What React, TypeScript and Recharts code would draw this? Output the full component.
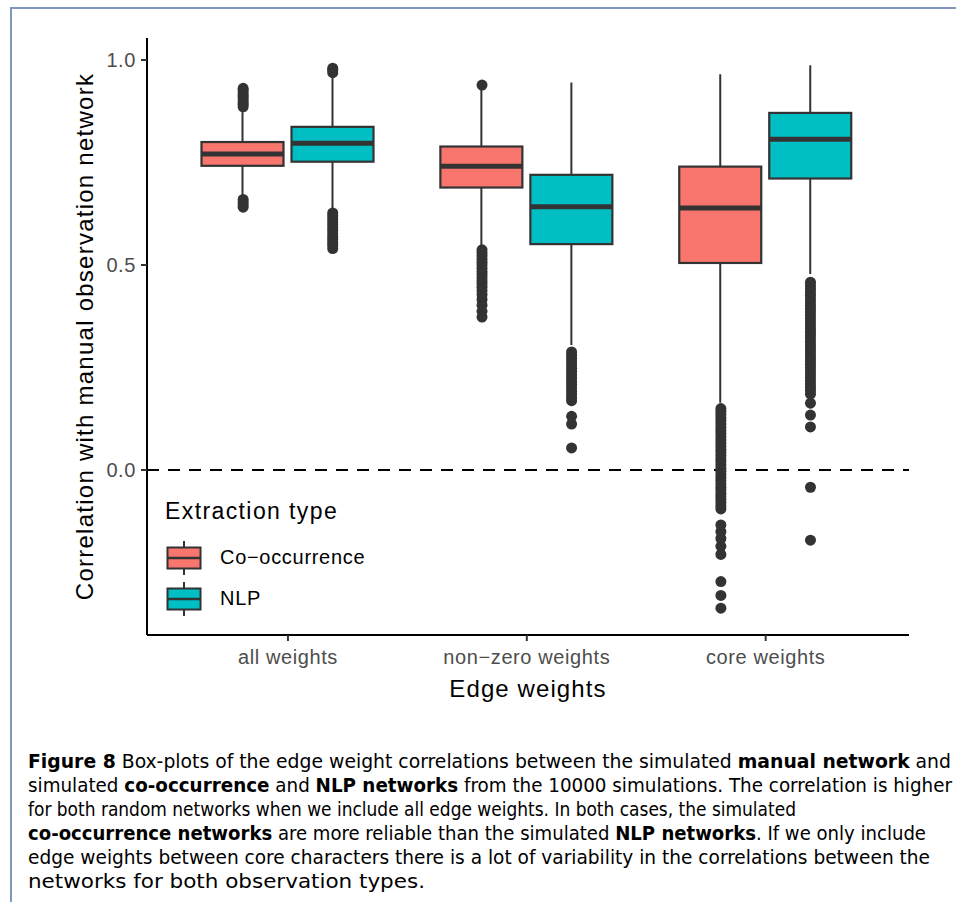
import React from 'react';
import { ComposedChart, Bar, Scatter, XAxis, YAxis, ReferenceLine, Legend } from 'recharts';

// ---------- data ----------
const categories = ['all weights', 'non−zero weights', 'core weights'];
const categoryPositions = [1, 2, 3];
const seriesNames = ['Co−occurrence', 'NLP'];
const seriesColors = ['#F8766D', '#00BFC4'];
const yTicks = [0, 0.5, 1.0];

const coLower = [0.67, 0.549, 0.164];
const coQ1 = [0.742, 0.689, 0.505];
const coMedian = [0.771, 0.741, 0.639];
const coQ3 = [0.8, 0.789, 0.74];
const coUpper = [0.873, 0.93, 0.965];

const nlpLower = [0.638, 0.305, 0.478];
const nlpQ1 = [0.752, 0.551, 0.711];
const nlpMedian = [0.797, 0.642, 0.807];
const nlpQ3 = [0.837, 0.72, 0.871];
const nlpUpper = [0.956, 0.945, 0.987];

const coOutliersAll = [0.931, 0.926, 0.92, 0.914, 0.909, 0.903, 0.897, 0.892, 0.886, 0.66, 0.654, 0.647, 0.641];
const coOutliersNonZero = [0.939, 0.537, 0.53, 0.522, 0.514, 0.507, 0.5, 0.492, 0.484, 0.477, 0.469, 0.461, 0.454, 0.446, 0.437, 0.428, 0.416, 0.402, 0.387, 0.373];
const coOutliersCore = [0.15, 0.143, 0.135, 0.127, 0.12, 0.112, 0.104, 0.096, 0.089, 0.081, 0.073, 0.066, 0.058, 0.05, 0.043, 0.035, 0.027, 0.02, 0.012, 0.004, -0.003, -0.011, -0.019, -0.026, -0.034, -0.042, -0.049, -0.057, -0.065, -0.072, -0.08, -0.088, -0.095, -0.134, -0.15, -0.167, -0.186, -0.206, -0.272, -0.306, -0.337];

const nlpOutliersAll = [0.98, 0.975, 0.969, 0.627, 0.62, 0.613, 0.605, 0.598, 0.591, 0.584, 0.576, 0.569, 0.562, 0.555, 0.548, 0.54];
const nlpOutliersNonZero = [0.288, 0.28, 0.272, 0.264, 0.256, 0.248, 0.24, 0.232, 0.224, 0.216, 0.208, 0.2, 0.192, 0.184, 0.176, 0.169, 0.131, 0.112, 0.054];
const nlpOutliersCore = [0.458, 0.45, 0.442, 0.434, 0.426, 0.418, 0.41, 0.402, 0.394, 0.386, 0.378, 0.37, 0.362, 0.354, 0.346, 0.338, 0.33, 0.322, 0.314, 0.306, 0.298, 0.29, 0.282, 0.274, 0.266, 0.258, 0.25, 0.242, 0.234, 0.226, 0.218, 0.21, 0.202, 0.194, 0.185, 0.163, 0.134, 0.105, -0.042, -0.171];

// ---------- derived tables ----------
const DODGE = 0.1875; // ggplot dodge of 0.75 / 4
const X_DOMAIN: [number, number] = [0.41, 3.6];
const Y_DOMAIN: [number, number] = [-0.4024, 1.0537];
const coOutliers = [coOutliersAll, coOutliersNonZero, coOutliersCore];
const nlpOutliers = [nlpOutliersAll, nlpOutliersNonZero, nlpOutliersCore];

const boxData = categoryPositions.map((x, i) => ({
  x,
  co: { lo: coLower[i], q1: coQ1[i], med: coMedian[i], q3: coQ3[i], hi: coUpper[i] },
  nlp: { lo: nlpLower[i], q1: nlpQ1[i], med: nlpMedian[i], q3: nlpQ3[i], hi: nlpUpper[i] },
}));

const coPoints = coOutliers.flatMap((arr, i) => arr.map((v) => ({ x: categoryPositions[i] - DODGE, y: v })));
const nlpPoints = nlpOutliers.flatMap((arr, i) => arr.map((v) => ({ x: categoryPositions[i] + DODGE, y: v })));

const rangeOf = (key: string) => (d: any) => (d && d[key] ? [d[key].lo, d[key].hi] : null);

const FONT = '"Liberation Sans", Arial, Helvetica, sans-serif';
const DARK = '#333333';

// ---------- shapes ----------
const makeBoxShape = (key: string) => (props: any) => {
  const { x, y, width, height, payload, fill } = props;
  const s = payload && payload[key];
  if (!s || x == null || y == null) return <g />;
  const top = Math.min(y, y + height);
  const bottom = Math.max(y, y + height);
  const px = (v: number) => top + ((bottom - top) * (s.hi - v)) / (s.hi - s.lo);
  const cx = x + width / 2;
  return (
    <g>
      <line x1={cx} x2={cx} y1={px(s.hi)} y2={px(s.lo)} stroke={DARK} strokeWidth={2} />
      <rect x={x} y={px(s.q3)} width={width} height={px(s.q1) - px(s.q3)} fill={fill} stroke={DARK} strokeWidth={2.2} />
      <line x1={x} x2={x + width} y1={px(s.med)} y2={px(s.med)} stroke={DARK} strokeWidth={5} />
    </g>
  );
};

const OutlierDot = (props: any) => (props.cx == null ? <g /> : <circle cx={props.cx} cy={props.cy} r={5.5} fill={DARK} />);

const XTitle = (props: any) => {
  const vb = props.viewBox || { x: 0, y: 0, width: 0, height: 0 };
  return (
    <text x={vb.x + vb.width / 2} y={vb.y + 62} textAnchor="middle" fontFamily={FONT} fontSize={24} fill="#000" letterSpacing={1.1}>
      Edge weights
    </text>
  );
};

const YTitle = (props: any) => {
  const vb = props.viewBox || { x: 0, y: 0, width: 0, height: 0 };
  const tx = vb.x + vb.width - 54;
  const ty = vb.y + vb.height / 2;
  return (
    <text x={tx} y={ty} transform={`rotate(-90 ${tx} ${ty})`} textAnchor="middle" fontFamily={FONT} fontSize={24} fill="#000" letterSpacing={1.25}>
      Correlation with manual observation network
    </text>
  );
};

const LegendContent = (props: any) => {
  const items = (props.payload || []).filter((p: any) => p.type !== 'none');
  return (
    <div style={{ fontFamily: FONT, color: '#000' }}>
      <div style={{ fontSize: 23, lineHeight: '28px', paddingLeft: 5, letterSpacing: 1.4, whiteSpace: 'nowrap' }}>Extraction type</div>
      <div style={{ marginTop: 12 }}>
        {items.map((it: any) => (
          <div key={it.value} style={{ display: 'flex', alignItems: 'center', height: 41 }}>
            <svg width={36} height={38} style={{ marginLeft: 6, display: 'block' }}>
              <line x1={18} x2={18} y1={2} y2={36} stroke={DARK} strokeWidth={2} />
              <rect x={1.5} y={8.5} width={33} height={21} fill={it.color} stroke={DARK} strokeWidth={2} />
              <line x1={1.5} x2={34.5} y1={19} y2={19} stroke={DARK} strokeWidth={2.6} />
            </svg>
            <span style={{ marginLeft: 18, fontSize: 20, letterSpacing: 0.7, whiteSpace: 'nowrap' }}>{it.value}</span>
          </div>
        ))}
      </div>
    </div>
  );
};

// ---------- caption ----------
const captionLines: { parts: [string, boolean][]; len: number }[] = [
  { parts: [['Figure 8', true], [' Box-plots of the edge weight correlations between the simulated ', false], ['manual network', true], [' and', false]], len: 923 },
  { parts: [['simulated ', false], ['co-occurrence', true], [' and ', false], ['NLP networks', true], [' from the 10000 simulations. The correlation is higher', false]], len: 924 },
  { parts: [['for both random networks when we include all edge weights. In both cases, the simulated', false]], len: 768 },
  { parts: [['co-occurrence networks', true], [' are more reliable than the simulated ', false], ['NLP networks', true], ['. If we only include', false]], len: 898 },
  { parts: [['edge weights between core characters there is a lot of variability in the correlations between the', false]], len: 902 },
  { parts: [['networks for both observation types.', false]], len: 397 },
];

const axisTick = { fill: '#4D4D4D', fontSize: 20, fontFamily: FONT, letterSpacing: 0.6 };

export default function App() {
  return (
    <div style={{ position: 'absolute', left: 0, top: 0, width: 956, height: 902, background: '#fff', overflow: 'hidden' }}>
      <div style={{ position: 'absolute', left: 10, top: 7, width: 960, height: 910, borderTop: '2px solid #7f97ba', borderLeft: '2px solid #7f97ba' }} />
      <div style={{ position: 'absolute', left: 0, top: 0 }}>
        <ComposedChart width={956} height={720} data={boxData} margin={{ top: 38, right: 47, bottom: 0, left: 0 }} barSize={82} barGap={8}>
          <XAxis
            type="number"
            dataKey="x"
            domain={X_DOMAIN}
            allowDataOverflow
            ticks={categoryPositions}
            tickFormatter={(v: number) => categories[Math.round(v) - 1] ?? ''}
            height={85}
            tickSize={6}
            tickMargin={9}
            axisLine={{ stroke: '#000', strokeWidth: 2 }}
            tickLine={{ stroke: DARK, strokeWidth: 2 }}
            tick={axisTick}
            label={<XTitle />}
          />
          <XAxis xAxisId="pts" type="number" dataKey="x" domain={X_DOMAIN} allowDataOverflow hide />
          <YAxis
            type="number"
            domain={Y_DOMAIN}
            allowDataOverflow
            ticks={yTicks}
            tickFormatter={(v: number) => v.toFixed(1)}
            width={147}
            tickSize={6}
            tickMargin={5}
            axisLine={{ stroke: '#000', strokeWidth: 2 }}
            tickLine={{ stroke: DARK, strokeWidth: 2 }}
            tick={axisTick}
            label={<YTitle />}
          />
          <Bar name={seriesNames[0]} dataKey={rangeOf('co')} fill={seriesColors[0]} shape={makeBoxShape('co')} isAnimationActive={false} />
          <Bar name={seriesNames[1]} dataKey={rangeOf('nlp')} fill={seriesColors[1]} shape={makeBoxShape('nlp')} isAnimationActive={false} />
          <Scatter xAxisId="pts" name="co-outliers" data={coPoints} dataKey="y" shape={<OutlierDot />} legendType="none" isAnimationActive={false} />
          <Scatter xAxisId="pts" name="nlp-outliers" data={nlpPoints} dataKey="y" shape={<OutlierDot />} legendType="none" isAnimationActive={false} />
          <ReferenceLine y={0} stroke="#000" strokeWidth={2} strokeDasharray="12 9" />
          <Legend
            layout="vertical"
            align="center"
            verticalAlign="middle"
            content={<LegendContent />}
            wrapperStyle={{ left: 160, top: 497, width: 240, height: 130 }}
          />
        </ComposedChart>
      </div>
      <svg width={956} height={170} style={{ position: 'absolute', left: 0, top: 740 }}>
        {captionLines.map((line, i) => (
          <text
            key={i}
            x={28}
            y={28 + i * 24}
            textLength={line.len}
            lengthAdjust="spacingAndGlyphs"
            fontFamily='"DejaVu Sans Condensed", "Liberation Sans Narrow", "Liberation Sans", sans-serif'
            fontSize={19.5}
            fill="#000"
          >
            {line.parts.map(([t, b], j) => (
              <tspan key={j} fontWeight={b ? 'bold' : 'normal'}>
                {t}
              </tspan>
            ))}
          </text>
        ))}
      </svg>
    </div>
  );
}
